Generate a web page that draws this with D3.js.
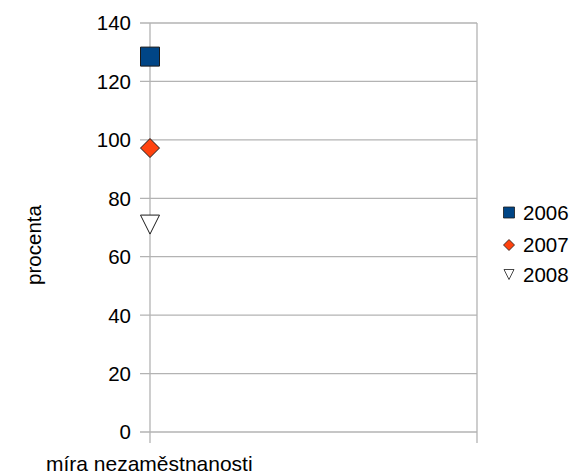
<!DOCTYPE html>
<html>
<head>
<meta charset="utf-8">
<script src="https://cdn.jsdelivr.net/npm/d3@7"></script>
<style>
  html, body { margin: 0; padding: 0; background: #fff; }
  svg { display: block; font-family: "Liberation Sans", Arial, sans-serif; }
</style>
</head>
<body>
<svg id="chart" width="573" height="476"></svg>
<script>
// Unemployment rate, one category, three years
const categories = ["míra nezaměstnanosti"];
const years = ["2006", "2007", "2008"];
const values = [128.5, 97.2, 71.0];
const yTicks = [0, 20, 40, 60, 80, 100, 120, 140];
const yTitle = "procenta";

const colors = ["#004586", "#ff420e", "#ffffff"];
const shapes = ["square", "diamond", "triangleDown"];

const svg = d3.select("#chart");
const plot = { left: 150, right: 477, top: 23, bottom: 432 };

const y = d3.scaleLinear().domain([0, 140]).range([plot.bottom, plot.top]);
const x = d3.scalePoint().domain(categories).range([plot.left, plot.left]);

const grid = "#b3b3b3";

// Horizontal gridlines with outer ticks
svg.append("g").selectAll("line").data(yTicks).join("line")
  .attr("x1", plot.left - 10).attr("x2", plot.right)
  .attr("y1", d => y(d)).attr("y2", d => y(d))
  .attr("stroke", grid).attr("stroke-width", 1.3);

// Vertical lines at the plot edges, extending below the axis
[plot.left, plot.right].forEach(px => {
  svg.append("line")
    .attr("x1", px).attr("x2", px)
    .attr("y1", plot.top).attr("y2", plot.bottom + 11)
    .attr("stroke", grid).attr("stroke-width", 1.3);
});

// Y tick labels
svg.append("g").selectAll("text").data(yTicks).join("text")
  .attr("x", 131).attr("y", d => y(d))
  .attr("dy", "0.36em")
  .attr("text-anchor", "end")
  .attr("font-size", 20.5).attr("fill", "#000")
  .text(d => d);

// Axis titles
svg.append("text")
  .attr("transform", "translate(41,245) rotate(-90)")
  .attr("text-anchor", "middle")
  .attr("font-size", 20.5)
  .text(yTitle);

svg.append("text")
  .attr("x", 46).attr("y", 471)
  .attr("font-size", 21)
  .text(categories[0]);

// Marker path of given half-size r
function markerPath(shape, r) {
  const p = d3.path();
  if (shape === "square") {
    p.rect(-r, -r, 2 * r, 2 * r);
  } else if (shape === "diamond") {
    p.moveTo(0, -r); p.lineTo(r, 0); p.lineTo(0, r); p.lineTo(-r, 0); p.closePath();
  } else {
    p.moveTo(-r, -r); p.lineTo(r, -r); p.lineTo(0, r); p.closePath();
  }
  return p.toString();
}

// Data points
svg.append("g").selectAll("path").data(values).join("path")
  .attr("transform", d => `translate(${x(categories[0])},${y(d)})`)
  .attr("d", (d, i) => markerPath(shapes[i], 9.5))
  .attr("fill", (d, i) => colors[i])
  .attr("stroke", "#1a1a1a").attr("stroke-width", 1);

// Legend
const legendY = [212.5, 245, 274.5];
const legendR = [5.5, 5.5, 5];
const legend = svg.append("g");
years.forEach((yr, i) => {
  legend.append("path")
    .attr("transform", `translate(509,${legendY[i]})`)
    .attr("d", markerPath(shapes[i], legendR[i]))
    .attr("fill", colors[i])
    .attr("stroke", "#1a1a1a").attr("stroke-width", 0.8);
  legend.append("text")
    .attr("x", 523).attr("y", legendY[i])
    .attr("dy", "0.36em")
    .attr("font-size", 20.5)
    .text(yr);
});
</script>
</body>
</html>
